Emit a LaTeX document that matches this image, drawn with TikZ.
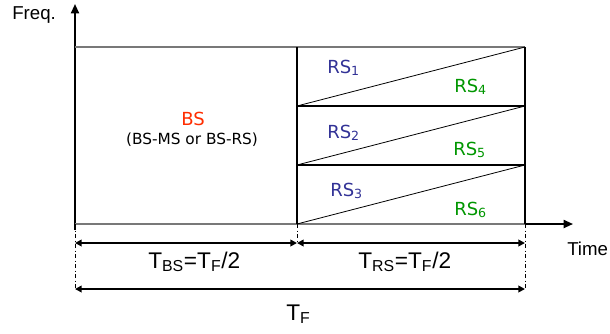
\documentclass[tikz,border=0pt]{standalone}
\usepackage{fontspec}
\setmainfont{Liberation Sans}
\newfontfamily\slotfont{DejaVu Sans}
\usetikzlibrary{arrows.meta}
\definecolor{rsblue}{RGB}{50,50,150}
\definecolor{rsgreen}{RGB}{0,150,0}
\definecolor{bsred}{RGB}{255,45,0}
\definecolor{boxgray}{RGB}{120,120,120}

\tikzset{
  axis/.style={line width=1.4pt, -{Triangle[length=7pt,width=6pt]}},
  dim/.style={line width=1.6pt, {Triangle[length=5pt,width=5pt]}-{Triangle[length=5pt,width=5pt]}},
  guide/.style={line width=0.5pt, dash dot},
  lbl/.style={inner sep=0pt, anchor=base west, font=\fontsize{14}{17}\selectfont},
  tlbl/.style={inner sep=0pt, anchor=base west, font=\fontsize{17}{20}\selectfont},
  slot/.style={inner sep=0pt, anchor=base west, font=\slotfont\fontsize{13.5}{16}\selectfont}
}

\begin{document}
\begin{tikzpicture}[x=0.75pt, y=-0.75pt]
  \useasboundingbox (0,0) rectangle (610,333);

  % Frame corners
  \coordinate (o)  at (75,224);
  \coordinate (m)  at (297,224);
  \coordinate (e)  at (525,224);
  \coordinate (ot) at (75,47);
  \coordinate (mt) at (297,47);
  \coordinate (et) at (525,47);
  \coordinate (m1) at (297,106);
  \coordinate (e1) at (525,106);
  \coordinate (m2) at (297,165);
  \coordinate (e2) at (525,165);

  % Axes
  \coordinate (ytip) at (75,4);
  \coordinate (xtip) at (573,224);
  \draw[axis] (75,230) -- (ytip);
  \draw[axis] (o) -- (xtip);
  \node[lbl] (freq) at (12,19) {Freq.};
  \node[lbl] (time) at (567,255) {Time};

  % Frame
  \draw[boxgray, line width=1pt] (ot) -- (et);
  \draw[boxgray, line width=1pt] (o) -- (e);
  \draw[line width=0.9pt] (mt) -- (m);
  \draw[line width=0.9pt] (et) -- (e);
  \draw[line width=0.8pt] (m1) -- (e1);
  \draw[line width=0.8pt] (m2) -- (e2);

  % Relay slots
  \draw[line width=0.6pt] (m) -- (e2);
  \draw[line width=0.6pt] (m2) -- (e1);
  \draw[line width=0.6pt] (m1) -- (et);

  % Labels
  \node[slot, bsred] (bs) at (181,125) {BS};
  \node[inner sep=0pt, anchor=base, font=\slotfont\fontsize{11.5}{14}\selectfont] (bsmode) at (192,144) {(BS-MS or BS-RS)};
  \node[slot, rsblue]  (rs1) at (327,73)  {RS\textsubscript{1}};
  \node[slot, rsgreen] (rs4) at (454,92)  {RS\textsubscript{4}};
  \node[slot, rsblue]  (rs2) at (327,138) {RS\textsubscript{2}};
  \node[slot, rsgreen] (rs5) at (453,155) {RS\textsubscript{5}};
  \node[slot, rsblue]  (rs3) at (330,196) {RS\textsubscript{3}};
  \node[slot, rsgreen] (rs6) at (454,215) {RS\textsubscript{6}};

  % Durations
  \coordinate (a0) at (75,243);
  \coordinate (a1) at (297,243);
  \coordinate (a2) at (525,243);
  \coordinate (b0) at (75,289);
  \coordinate (b2) at (525,289);
  \draw[guide] (o) -- (b0);
  \draw[guide] (m) -- (a1);
  \draw[guide] (e) -- (b2);
  \draw[dim] (a0) -- (a1);
  \draw[dim] (a1) -- (a2);
  \draw[dim] (b0) -- (b2);
  \node[tlbl] (tbs) at (148,268) {T\textsubscript{BS}=T\textsubscript{F}/2};
  \node[tlbl] (trs) at (358,268) {T\textsubscript{RS}=T\textsubscript{F}/2};
  \node[tlbl] (tf)  at (286,320) {T\textsubscript{F}};
\end{tikzpicture}
\end{document}
